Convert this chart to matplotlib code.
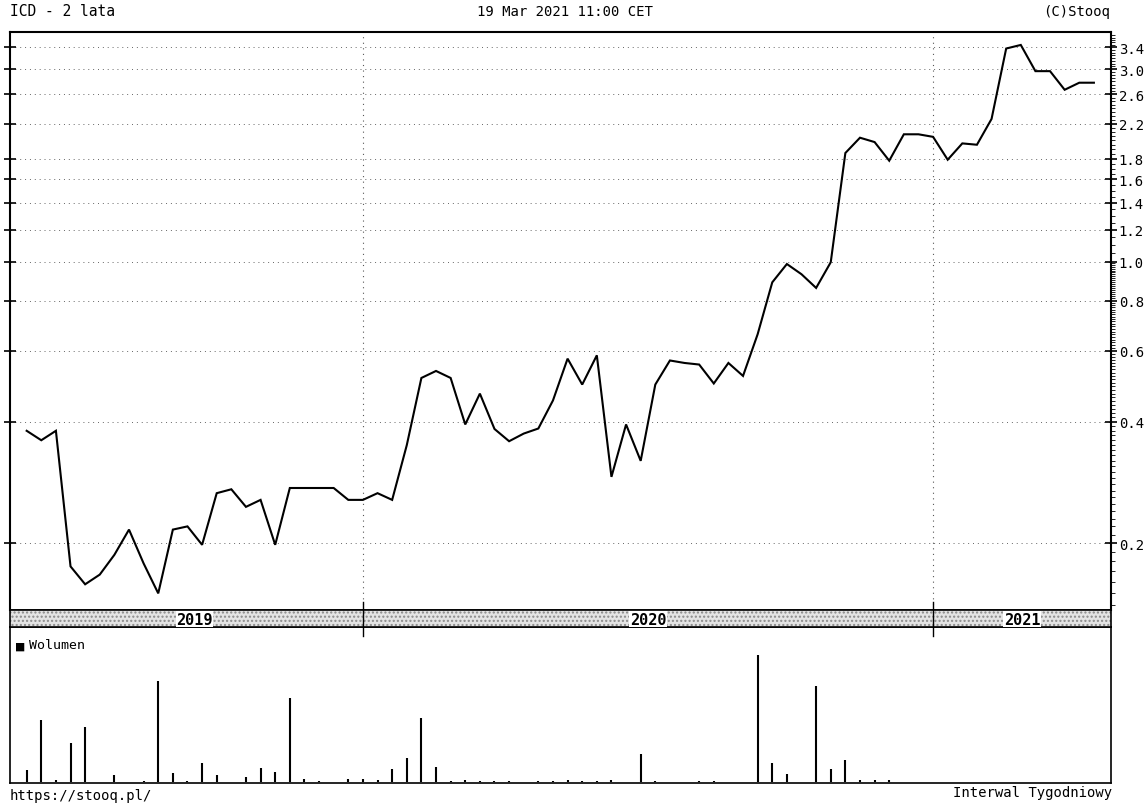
import matplotlib
matplotlib.use("Agg")
import matplotlib.pyplot as plt
import matplotlib.ticker as ticker
from matplotlib.patches import Rectangle
import numpy as np

TITLE = "ICD - 2 lata"
STAMP = "19 Mar 2021 11:00 CET"
SOURCE = "(C)Stooq"
URL = "https://stooq.pl/"
INTERVAL = "Interwal Tygodniowy"
VOLUME_LABEL = "Wolumen"

# weekly closes (only weeks with trades)
close = [
    0.38, 0.36, 0.38, 0.175, 0.158, 0.167, 0.187, 0.216, 0.178, 0.15,
    0.216, 0.22, 0.198, 0.266, 0.272, 0.246, 0.256, 0.198, 0.274, 0.274,
    0.274, 0.274, 0.256, 0.256, 0.266, 0.256, 0.35, 0.514, 0.535, 0.514,
    0.394, 0.47, 0.384, 0.358, 0.374, 0.385, 0.452, 0.574, 0.495, 0.585,
    0.292, 0.394, 0.32, 0.495, 0.568, 0.56, 0.555, 0.498, 0.56, 0.52,
    0.66, 0.888, 0.986, 0.93, 0.86, 0.996, 1.86, 2.03, 1.98, 1.78,
    2.07, 2.07, 2.04, 1.79, 1.965, 1.95, 2.26, 3.38, 3.45, 2.97,
    2.97, 2.67, 2.78, 2.78,
]

volume = [
    12, 62, 2, 39, 55, 0, 7, 0, 1, 101,
    9, 1, 19, 7, 0, 5, 14, 10, 84, 3,
    1, 0, 3, 3, 2, 13, 24, 64, 15, 1,
    2, 1, 1, 1, 0, 1, 1, 2, 1.5, 1.5,
    2, 0, 28, 1, 0, 0, 1, 1, 0, 0,
    127, 19, 8, 0, 96, 13, 22, 2, 2, 2,
    0, 0, 0, 0, 0, 0, 0, 0, 0, 0,
    0, 0, 0, 0,
]

years = ["2019", "2020", "2021"]
year_start = [23, 62]  # first weekly bar of 2020 and 2021

price_ticks = [0.2, 0.4, 0.6, 0.8, 1.0, 1.2, 1.4, 1.6, 1.8, 2.2, 2.6, 3.0, 3.4]

MONO = "DejaVu Sans Mono"
plt.rcParams["font.family"] = MONO

x = np.arange(len(close))
xlim = (-1.14, 74.17)

fig = plt.figure(figsize=(11.48, 8.04), dpi=100)
fig.patch.set_facecolor("white")

L, W = 10 / 1148, 1101 / 1148
ax = fig.add_axes([L, 1 - 611 / 804, W, 578 / 804])
vax = fig.add_axes([L, 1 - 784 / 804, W, 156 / 804])
band = fig.add_axes([L, 1 - 628 / 804, W, 17 / 804])
band.set_zorder(5)

# price panel
ax.plot(x, close, color="black", lw=1.5, solid_joinstyle="miter")
ax.set_yscale("log")
ax.set_ylim(0.1364, 3.715)
ax.set_xlim(*xlim)
ax.yaxis.set_major_locator(ticker.FixedLocator(price_ticks))
ax.yaxis.set_major_formatter(ticker.FuncFormatter(lambda v, p: f"{v:.1f}"))
minor = np.concatenate([np.arange(0.14, 1.0, 0.01), np.arange(1.0, 3.7, 0.05)])
ax.yaxis.set_minor_locator(ticker.FixedLocator(minor))
ax.yaxis.set_minor_formatter(ticker.NullFormatter())
ax.tick_params(axis="y", which="major", left=True, right=True, labelleft=False,
               labelright=True, direction="inout", length=9, width=1.2,
               pad=1, labelsize=10)
ax.tick_params(axis="y", which="minor", left=False, right=True,
               direction="out", length=3, width=0.6)
ax.set_xticks([])
for v in price_ticks:
    ax.axhline(v, color="#666666", lw=0.7, ls=(0, (1, 4)), zorder=0)
for xs in year_start:
    ax.axvline(xs, color="#555555", lw=0.8, ls=(0, (1, 4)), zorder=0)
for s in ax.spines.values():
    s.set_linewidth(1.5)
ax.spines["bottom"].set_linewidth(1.2)

# year band
band.set_xlim(*xlim)
band.set_ylim(0, 1)
band.add_patch(Rectangle((xlim[0], 0), xlim[1] - xlim[0], 1, facecolor="#e4e4e4",
                         edgecolor="#8a8a8a", hatch="....", lw=0))
bounds = [0] + year_start + [xlim[1]]
for i, yr in enumerate(years):
    cx = (bounds[i] + bounds[i + 1]) / 2
    band.text(cx, 0.45, yr, ha="center", va="center", fontsize=11, fontweight="bold",
              bbox=dict(facecolor="white", edgecolor="none", pad=0.3))
for xs in year_start:
    band.plot([xs, xs], [-0.5, 1.5], color="black", lw=1, clip_on=False)
band.set_xticks([])
band.set_yticks([])
for s in band.spines.values():
    s.set_linewidth(1.2)

# volume panel
vax.vlines(x, 0, volume, color="black", lw=1.5)
vax.set_xlim(*xlim)
vax.set_ylim(-1, 155)
vax.set_xticks([])
vax.set_yticks([])
for s in vax.spines.values():
    s.set_linewidth(1.2)
vax.text(0.005, 0.88, "\u25a0", transform=vax.transAxes, fontsize=10, va="center")
vax.text(0.017, 0.885, VOLUME_LABEL, transform=vax.transAxes, fontsize=9.5, va="center")

# header and footer
fig.text(10 / 1148, 1 - 12 / 804, TITLE, fontsize=10.5, va="center", ha="left")
fig.text(565 / 1148, 1 - 12 / 804, STAMP, fontsize=10, va="center", ha="center")
fig.text(1110 / 1148, 1 - 12 / 804, SOURCE, fontsize=10, va="center", ha="right")
fig.text(10 / 1148, 1 - 796 / 804, URL, fontsize=10, va="center", ha="left")
fig.text(1112 / 1148, 1 - 793 / 804, INTERVAL, fontsize=10, va="center", ha="right")

fig.savefig("out.png", dpi=100)
